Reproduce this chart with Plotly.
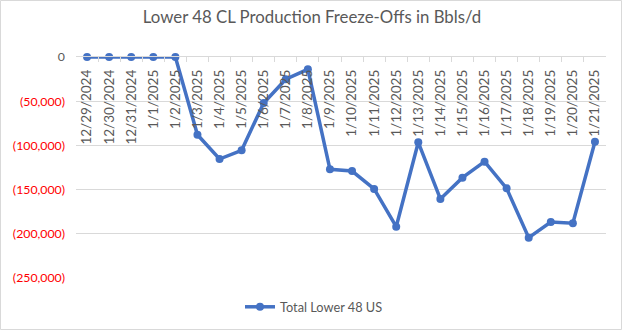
import plotly.graph_objects as go

dates = ["12/29/2024", "12/30/2024", "12/31/2024", "1/1/2025", "1/2/2025", "1/3/2025",
         "1/4/2025", "1/5/2025", "1/6/2025", "1/7/2025", "1/8/2025", "1/9/2025",
         "1/10/2025", "1/11/2025", "1/12/2025", "1/13/2025", "1/14/2025", "1/15/2025",
         "1/16/2025", "1/17/2025", "1/18/2025", "1/19/2025", "1/20/2025", "1/21/2025"]
values = [0, 0, 0, 0, 0, -88000, -115400, -105500, -52000, -25200, -13900, -127000,
          -129000, -149300, -192000, -96500, -160600, -136500, -118400, -148600,
          -204400, -186700, -188100, -95800]
y_ticks = [0, -50000, -100000, -150000, -200000, -250000]
y_labels = ["0", "(50,000)", "(100,000)", "(150,000)", "(200,000)", "(250,000)"]

series_name = "Total Lower 48 US"
blue = "#4472C4"
gray = "#595959"
grid = "#D9D9D9"
FONT = "Lato, Noto Sans, sans-serif"

ticktext = [f'<span style="color:{gray}">{t}</span>' if v == 0 else f'<span style="color:#FF0000">{t}</span>'
            for v, t in zip(y_ticks, y_labels)]

fig = go.Figure()
# invisible carrier trace for the category label axis (drawn along the zero line)
fig.add_trace(go.Scatter(
    x=dates, y=[0] * len(dates), mode="markers", marker=dict(opacity=0),
    xaxis="x2", yaxis="y2", showlegend=False, hoverinfo="skip",
))
fig.add_trace(go.Scatter(
    x=dates, y=values, mode="lines+markers", name=series_name,
    line=dict(color=blue, width=3.5), marker=dict(color=blue, size=8),
    cliponaxis=False,
))

W, H = 624, 331
ml, mr, mt, mb = 76, 18, 57, 53
pw, ph = W - ml - mr, H - mt - mb

def px2paper_x(px):
    return (px - ml) / pw

def px2paper_y(py):
    return (H - mb - py) / ph

fig.update_layout(
    width=W, height=H,
    margin=dict(l=ml, r=mr, t=mt, b=mb, autoexpand=False),
    paper_bgcolor="white", plot_bgcolor="white",
    font=dict(family=FONT, color=gray, size=12),
    title=dict(text="Lower 48 CL Production Freeze-Offs in Bbls/d", x=0.5, xanchor="center",
               y=1 - 17 / H, yanchor="middle", font=dict(size=16.8, color=gray)),
    showlegend=True,
    legend=dict(orientation="h", x=px2paper_x(314), xanchor="center", y=px2paper_y(307), yanchor="middle",
                font=dict(size=12.75, color=gray)),
    xaxis=dict(type="category", showgrid=False, showline=False, showticklabels=False,
               ticks="", range=[-0.5, len(dates) - 0.5], automargin=False),
    yaxis=dict(range=[-250000, 0], tickvals=y_ticks, ticktext=ticktext,
               showgrid=True, gridcolor=grid, gridwidth=1, zeroline=False,
               showline=False, ticks="", tickfont=dict(size=12.3), ticklabelstandoff=10,
               automargin=False),
    xaxis2=dict(type="category", overlaying="x", anchor="y2", side="top",
                ticklabelposition="inside", tickangle=-90,
                showgrid=False, showline=True, linecolor=grid, linewidth=1,
                ticks="inside", ticklen=5, tickcolor=grid, tickson="boundaries",
                tickfont=dict(size=13.5, color=gray), range=[-0.5, len(dates) - 0.5],
                automargin=False),
    yaxis2=dict(overlaying="y", range=[-250000, 0], visible=False, showgrid=False, automargin=False),
    shapes=[dict(type="rect", xref="paper", yref="paper",
                 x0=px2paper_x(0.5), x1=px2paper_x(621.5),
                 y0=px2paper_y(329.5), y1=px2paper_y(0.5),
                 line=dict(color=grid, width=1), fillcolor="rgba(0,0,0,0)", layer="below")],
)

fig.write_html("out.html")
